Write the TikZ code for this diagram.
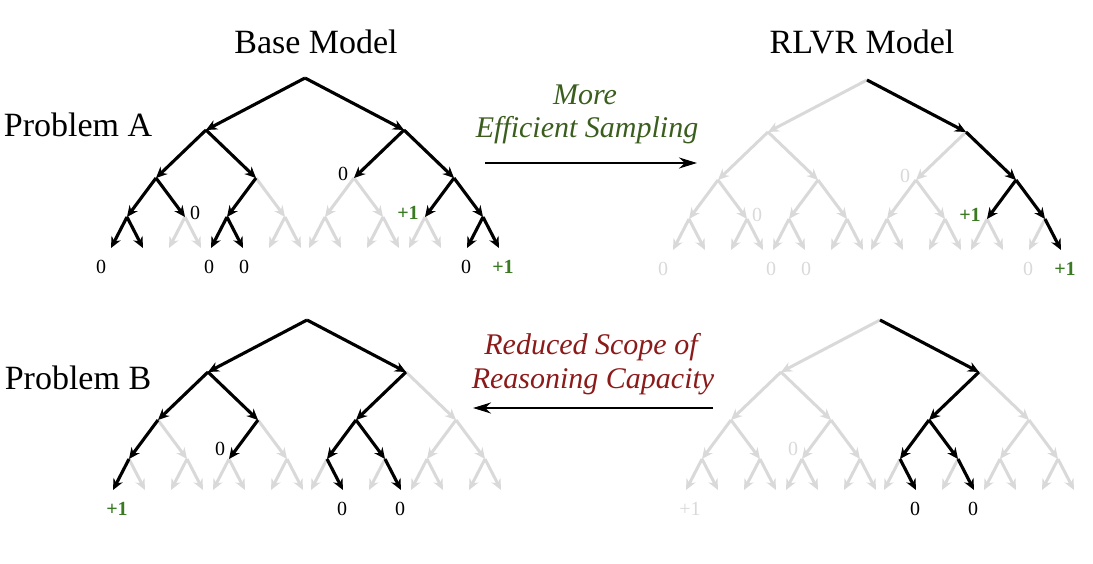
\documentclass[tikz,border=0pt]{standalone}
\usepackage{fontspec}
\setmainfont{Liberation Serif}
\usetikzlibrary{calc,arrows.meta}
\definecolor{gr}{HTML}{D9D9D9}
\definecolor{grn}{HTML}{3A7A22}
\definecolor{olv}{HTML}{3B5E1E}
\definecolor{dred}{HTML}{8B1A1A}
\tikzset{
  ge/.style={gr,line width=3pt,-{Stealth[length=11pt,width=10pt]}},
  be/.style={black,line width=3.1pt,-{Stealth[length=11pt,width=10pt]}},
  lab/.style={font=\fontsize{20}{20}\selectfont,inner sep=1pt},
  plus/.style={lab,text=grn,font=\fontsize{20}{20}\selectfont\bfseries},
  ttl/.style={font=\fontsize{34}{34}\selectfont},
  captxt/.style={font=\fontsize{30}{30}\selectfont\itshape},
}
\newcommand{\kids}[3]{%
  \coordinate (#1L) at ($(#1)+(-#2,#3)$);
  \coordinate (#1R) at ($(#1)+(#2,#3)$);
  \draw[ge] (#1) -- (#1L);
  \draw[ge] (#1) -- (#1R);}
\newcommand{\mktree}[3]{%
  \coordinate (#1) at (#2,#3);
  \kids{#1}{99}{52}
  \foreach \a in {L,R}{\kids{#1\a}{50}{48}}
  \foreach \a in {LL,LR,RL,RR}{\kids{#1\a}{29}{39}}
  \foreach \a in {LLL,LLR,LRL,LRR,RLL,RLR,RRL,RRR}{\kids{#1\a}{16}{31}}}
\newcommand{\bk}[2]{\draw[be] (#1) -- (#1#2);}
\begin{document}
\begin{tikzpicture}[x=1pt,y=-1pt]
\useasboundingbox (0,0) rectangle (1093,564);
\node[ttl] (t1) at (316,42) {Base Model};
\node[ttl] (t2) at (862,42) {RLVR Model};
\node[ttl] (pa) at (78,125) {Problem A};
\node[ttl] (pb) at (78,378) {Problem B};
\mktree{a}{305}{78}
\mktree{b}{867}{80}
\mktree{c}{307}{320}
\mktree{d}{880}{320}
\bk{a}{L}\bk{a}{R}\bk{aL}{L}\bk{aL}{R}\bk{aLL}{L}\bk{aLL}{R}
\bk{aLLL}{L}\bk{aLLL}{R}\bk{aLR}{L}\bk{aLRL}{L}\bk{aLRL}{R}
\bk{aR}{L}\bk{aR}{R}\bk{aRR}{L}\bk{aRR}{R}\bk{aRRR}{L}\bk{aRRR}{R}
\bk{b}{R}\bk{bR}{R}\bk{bRR}{L}\bk{bRR}{R}\bk{bRRR}{R}
\bk{c}{L}\bk{c}{R}\bk{cL}{L}\bk{cL}{R}\bk{cLL}{L}\bk{cLLL}{L}\bk{cLR}{L}
\bk{cR}{L}\bk{cRL}{L}\bk{cRL}{R}\bk{cRLL}{R}\bk{cRLR}{R}
\bk{d}{R}\bk{dR}{L}\bk{dRL}{L}\bk{dRL}{R}\bk{dRLL}{R}\bk{dRLR}{R}
\node[lab] (a1) at ($(aRL)+(-11,-4)$) {0};
\node[lab] (a2) at ($(aLLR)+(10,-4)$) {0};
\node[plus] (a3) at ($(aRRL)+(-17,-4)$) {+1};
\node[lab] (a4) at ($(aLLLL)+(-10,19)$) {0};
\node[lab] (a5) at ($(aLRLL)+(-2,19)$) {0};
\node[lab] (a6) at ($(aLRLR)+(1,19)$) {0};
\node[lab] (a7) at ($(aRRRL)+(-1,19)$) {0};
\node[plus] (a8) at ($(aRRRR)+(4,19)$) {+1};
\node[lab,text=gr] (b1) at ($(bRL)+(-11,-4)$) {0};
\node[lab,text=gr] (b2) at ($(bLLR)+(10,-4)$) {0};
\node[plus] (b3) at ($(bRRL)+(-17,-4)$) {+1};
\node[lab,text=gr] (b4) at ($(bLLLL)+(-10,19)$) {0};
\node[lab,text=gr] (b5) at ($(bLRLL)+(-2,19)$) {0};
\node[lab,text=gr] (b6) at ($(bLRLR)+(1,19)$) {0};
\node[lab,text=gr] (b7) at ($(bRRRL)+(-1,19)$) {0};
\node[plus] (b8) at ($(bRRRR)+(4,19)$) {+1};
\node[plus] (c1) at ($(cLLLL)+(4,19)$) {+1};
\node[lab] (c2) at ($(cLRL)+(-9,-10)$) {0};
\node[lab] (c3) at ($(cRLLR)+(-1,19)$) {0};
\node[lab] (c4) at ($(cRLRR)+(-1,19)$) {0};
\node[lab,text=gr] (d1) at ($(dLLLL)+(4,19)$) {+1};
\node[lab,text=gr] (d2) at ($(dLRL)+(-9,-10)$) {0};
\node[lab] (d3) at ($(dRLLR)+(-1,19)$) {0};
\node[lab] (d4) at ($(dRLRR)+(-1,19)$) {0};
\coordinate (m1) at (485,163);
\coordinate (m2) at (697,163);
\draw[black,line width=2.2pt,-{Stealth[length=18pt,width=11pt]}] (m1) -- (m2);
\node[captxt,text=olv] (e1) at (585,95) {More};
\node[captxt,text=olv] (e2) at (587,130) {Efficient Sampling};
\coordinate (m3) at (713,408);
\coordinate (m4) at (473,408);
\draw[black,line width=2.2pt,-{Stealth[length=18pt,width=11pt]}] (m3) -- (m4);
\node[captxt,text=dred] (r1) at (591,347) {Reduced Scope of};
\node[captxt,text=dred] (r2) at (593,382) {Reasoning Capacity};
\end{tikzpicture}
\end{document}
